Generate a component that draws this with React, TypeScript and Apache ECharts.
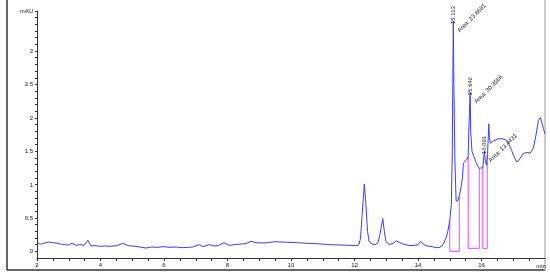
import React, { useEffect, useRef } from "react";
import * as echarts from "echarts";

// Chromatogram trace (retention time in min, signal in mAU)
const times = [
  2.0, 2.1, 2.22, 2.35, 2.47, 2.6, 2.72, 2.88, 2.98, 3.1, 3.23, 3.35, 3.48, 3.6, 3.7, 3.83,
  4.0, 4.14, 4.3, 4.52, 4.7, 4.87, 5.09, 5.24, 5.43, 5.62, 5.81, 5.97, 6.19, 6.38, 6.57, 6.76,
  6.91, 7.1, 7.23, 7.42, 7.57, 7.7, 7.89, 8.05, 8.24, 8.43, 8.58, 8.74, 8.9, 9.09, 9.28, 9.5,
  9.65, 9.9, 10.2, 10.5, 10.8, 11.23, 11.5, 11.86, 12.08, 12.14, 12.19, 12.24, 12.31, 12.36,
  12.41, 12.46, 12.55, 12.65, 12.74, 12.8, 12.89, 12.94, 12.99, 13.09, 13.21, 13.33, 13.43,
  13.59, 13.75, 13.9, 14.0, 14.08, 14.16, 14.28, 14.44, 14.57, 14.69, 14.79, 14.88, 14.94,
  15.0, 15.05, 15.08, 15.1, 15.113, 15.13, 15.16, 15.2, 15.24, 15.3, 15.35, 15.4, 15.43,
  15.48, 15.53, 15.58, 15.6, 15.642, 15.66, 15.7, 15.76, 15.83, 15.89, 15.93, 15.98, 16.04,
  16.08, 16.091, 16.12, 16.16, 16.19, 16.23, 16.25, 16.28, 16.37, 16.49, 16.64, 16.8, 16.87,
  16.95, 17.02, 17.11, 17.17, 17.21, 17.32, 17.43, 17.53, 17.63, 17.72, 17.79, 17.86, 17.95, 18.0,
];
const absorbance = [
  0.14, 0.105, 0.12, 0.14, 0.13, 0.125, 0.11, 0.1, 0.095, 0.12, 0.09, 0.1, 0.09, 0.165, 0.08, 0.085,
  0.075, 0.08, 0.075, 0.085, 0.12, 0.085, 0.075, 0.065, 0.05, 0.065, 0.06, 0.07, 0.06, 0.065, 0.055, 0.06,
  0.065, 0.1, 0.07, 0.1, 0.08, 0.085, 0.13, 0.09, 0.1, 0.11, 0.115, 0.15, 0.13, 0.125, 0.13, 0.145,
  0.14, 0.135, 0.13, 0.12, 0.115, 0.1, 0.095, 0.09, 0.085, 0.1, 0.2, 0.55, 1.01, 0.7,
  0.3, 0.15, 0.11, 0.1, 0.13, 0.25, 0.49, 0.3, 0.15, 0.1, 0.12, 0.155, 0.13,
  0.1, 0.085, 0.09, 0.1, 0.15, 0.11, 0.08, 0.07, 0.055, 0.06, 0.1, 0.2, 0.3,
  0.46, 0.7, 1.5, 2.8, 3.45, 2.5, 1.4, 0.76, 0.75, 0.82, 0.95, 1.1, 1.32,
  1.35, 1.37, 1.42, 1.8, 2.38, 1.8, 1.5, 1.42, 1.33, 1.27, 1.24, 1.25, 1.25,
  1.45, 1.5, 1.35, 1.29, 1.45, 1.91, 1.7, 1.62, 1.65, 1.68, 1.69, 1.66, 1.6,
  1.51, 1.42, 1.34, 1.36, 1.39, 1.47, 1.48, 1.47, 1.54, 1.75, 1.96, 2.0, 1.84, 1.76,
];

// Integration baselines (drop lines + baseline) per integrated peak
const boxStart = [15.0, 15.58, 16.04];
const boxEnd = [15.3, 15.93, 16.18];
const boxStartTop = [0.46, 1.42, 1.25];
const boxEndTop = [0.82, 1.24, 1.45];
const boxBase = [0.0, 0.045, 0.045];

// Peak annotations
const peakTimes = [15.113, 15.642, 16.091];
const peakHeights = [3.45, 2.38, 1.5];
const peakLabels = ["15.113", "15.642", "16.091"];
const peakAreas = ["23.6681", "30.3566", "13.4431"];

// Axis ticks and labels
const xLabelValues = [2, 4, 6, 8, 10, 12, 14, 16];
const xTickValues = Array.from({ length: 32 }, (_, i) => 2 + i * 0.5);
const yLabelValues = [0, 0.5, 1, 1.5, 2, 2.5, 3, 3.6];
const yTickValues = Array.from({ length: 37 }, (_, i) => Math.round(i) / 10);

const FONT = "'Liberation Sans Narrow', 'Liberation Sans', Arial, sans-serif";

export default function App() {
  const ref = useRef<HTMLDivElement>(null);
  useEffect(() => {
    const chart = echarts.init(ref.current!, null, { renderer: "svg" });
    const trace = times.map((t, i) => [t, absorbance[i]]);
    const boxSeries = boxStart.map((s, i) => ({
      type: "line",
      data: [
        [s, boxStartTop[i]],
        [s, boxBase[i]],
        [boxEnd[i], boxBase[i]],
        [boxEnd[i], boxEndTop[i]],
      ],
      symbol: "none",
      silent: true,
      lineStyle: { color: "#ff3cff", width: 1 },
      z: 1,
    }));
    chart.setOption({
      animation: false,
      grid: { left: 37, right: 5, top: 11, bottom: 22, outerBoundsMode: "none" },
      xAxis: {
        type: "value",
        min: 2,
        max: 18,
        splitLine: { show: false },
        axisLine: { show: true, onZero: false, lineStyle: { color: "#333", width: 1 } },
        axisTick: { show: true, customValues: xTickValues, length: 3, lineStyle: { color: "#333" } },
        axisLabel: {
          customValues: xLabelValues,
          fontSize: 6,
          color: "#222",
          fontFamily: FONT,
          margin: 4,
        },
      },
      yAxis: {
        type: "value",
        min: -0.1,
        max: 3.6,
        splitLine: { show: false },
        axisLine: { show: true, onZero: false, lineStyle: { color: "#333", width: 1 } },
        axisTick: { show: true, customValues: yTickValues, length: 2, lineStyle: { color: "#333" } },
        axisLabel: {
          customValues: yLabelValues,
          fontSize: 6,
          color: "#222",
          fontFamily: FONT,
          margin: 4,
          formatter: (v: number) => (v > 3.5 ? "mAU" : String(v)),
        },
      },
      series: [
        {
          type: "line",
          data: trace,
          symbol: "none",
          silent: true,
          lineStyle: { color: "#3c3cff", width: 1 },
          z: 2,
        },
        ...boxSeries,
      ],
    });

    const graphics: any[] = [
      { type: "line", shape: { x1: 7, y1: 0, x2: 7, y2: 270 }, style: { stroke: "#333", lineWidth: 1.5 } },
      { type: "line", shape: { x1: 7, y1: 270, x2: 545, y2: 270 }, style: { stroke: "#333", lineWidth: 1.5 } },
      { type: "line", shape: { x1: 545, y1: 0, x2: 545, y2: 270 }, style: { stroke: "#999", lineWidth: 1 } },
      {
        type: "text",
        x: 541,
        y: 266,
        style: { text: "min", fontSize: 6, fill: "#222", fontFamily: FONT, align: "center", verticalAlign: "middle" },
      },
    ];
    peakTimes.forEach((t, i) => {
      const p = chart.convertToPixel({ gridIndex: 0 }, [t, peakHeights[i]]) as number[];
      graphics.push({
        type: "text",
        x: p[0],
        y: p[1] + 3,
        rotation: Math.PI / 2,
        z: 10,
        style: { text: peakLabels[i], fontSize: 6, fill: "#222", fontFamily: FONT, align: "left", verticalAlign: "middle" },
      });
      graphics.push({
        type: "text",
        x: p[0] + 5,
        y: p[1] + 10,
        rotation: Math.PI / 4,
        z: 10,
        style: { text: "Area: " + peakAreas[i], fontSize: 6, fill: "#222", fontFamily: FONT, align: "left", verticalAlign: "middle" },
      });
    });
    chart.setOption({ graphic: graphics });
    return () => chart.dispose();
  }, []);
  return <div ref={ref} style={{ position: "fixed", left: 0, top: 0, width: 550, height: 280 }} />;
}
